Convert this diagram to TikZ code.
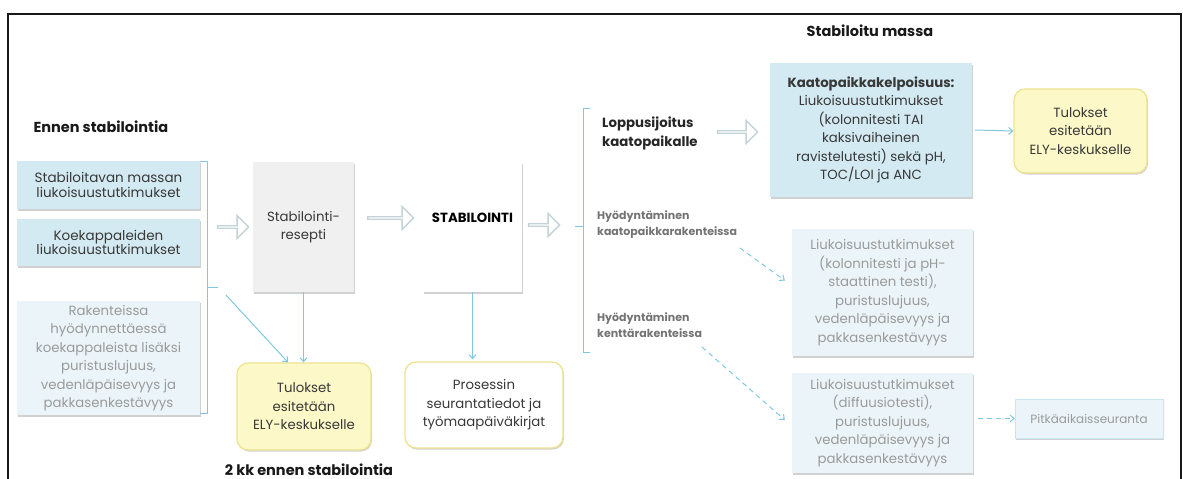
\documentclass[tikz,border=0pt]{standalone}
\usepackage{fontspec}
\setmainfont{Poppins}
\usetikzlibrary{shapes.arrows,shadows,arrows.meta}
\definecolor{boxblue}{HTML}{D3EAF2}
\definecolor{paleblue}{HTML}{EBF5F9}
\definecolor{paletext}{HTML}{9A9A9A}
\definecolor{darktext}{HTML}{383838}
\definecolor{recipegray}{HTML}{F0F0F0}
\definecolor{yelfill}{HTML}{FCF8C8}
\definecolor{yeldraw}{HTML}{EDE390}
\definecolor{linkblue}{HTML}{80C8DE}
\definecolor{arrgray}{HTML}{C3D3D6}
\begin{document}
\begin{tikzpicture}[x=1pt,y=-1pt,
	box/.style={rectangle,align=center,inner sep=2pt,text=darktext,
		font=\fontsize{13.3}{18.5}\selectfont,
		drop shadow={shadow xshift=1pt,shadow yshift=-1.5pt,fill=black!40,opacity=.45}},
	bluebox/.style={box,fill=boxblue},
	palebox/.style={box,fill=paleblue,text=paletext},
	yelbox/.style={box,rounded corners=11pt,fill=yelfill,draw=yeldraw,line width=1.3pt},
	harrow/.style={single arrow,draw=arrgray,fill=white,line width=1.3pt,minimum width=23pt,
		single arrow head extend=5.5pt,inner sep=0pt,minimum height=#1},
	link/.style={draw=linkblue,line width=1pt,-{Straight Barb[length=4pt,width=7pt]}},
	dlink/.style={link,dash pattern=on 5pt off 4pt},
	title/.style={font=\fontsize{14.5}{16}\selectfont\bfseries,text=black!90},
	subtitle/.style={font=\fontsize{11}{16}\selectfont\bfseries,align=left,inner sep=0pt}]
	\useasboundingbox (0,0) rectangle (1183,479);
	% frame
	\draw[line width=2pt,black!90] (8,490) -- (8,13.5) -- (1181,13.5) -- (1181,490);
	% titles
	\node[title,anchor=west] (tbefore) at (30,127) {Ennen stabilointia};
	\node[title] (tafter) at (870,31) {Stabiloitu massa};
	\node[title] (tmonths) at (309,470) {2 kk ennen stabilointia};
	% before stabilisation
	\node[bluebox,minimum width=183pt,minimum height=48pt,font=\fontsize{13.5}{14.5}\selectfont] (mass) at (108.5,185) {Stabiloitavan massan\\liukoisuustutkimukset};
	\node[bluebox,minimum width=183pt,minimum height=47pt,font=\fontsize{13.5}{14.5}\selectfont] (spec) at (108.5,242.5) {Koekappaleiden\\liukoisuustutkimukset};
	\node[palebox,minimum width=183pt,minimum height=114pt] (struct) at (108.5,358) {Rakenteissa\\hyödynnettäessä\\koekappaleista lisäksi\\puristuslujuus,\\vedenläpäisevyys ja\\pakkasenkestävyys};
	\draw[linkblue,line width=1pt] (200,161) -- (207,161) -- (207,413) -- (200,413);
	\draw[linkblue,line width=1pt] (207,287) -- (218,287);
	\coordinate (bl) at (226,295);
	% main line
	\node[harrow=31pt] (a1) at (232.5,227) {};
	\node[box,fill=recipegray,minimum width=101pt,minimum height=130pt] (recipe) at (303.5,227) {Stabilointi-\\resepti};
	\node[harrow=46pt] (a2) at (390,218) {};
	\node[box,fill=white,minimum width=99pt,minimum height=130pt,font=\fontsize{13.3}{18.5}\selectfont\bfseries,text=black,text depth=18pt] (stab) at (472.5,227) {STABILOINTI};
	\node[harrow=31pt] (a3) at (543.5,225) {};
	\node[yelbox,minimum width=134pt,minimum height=87pt] (ely) at (304,406.5) {Tulokset\\esitetään\\ELY-keskukselle};
	\node[yelbox,fill=white,minimum width=158pt,minimum height=86pt] (proc) at (484,405) {Prosessin\\seurantatiedot ja\\työmaapäiväkirjat};
	\draw[link] (recipe.south) -- (recipe.south |- ely.north);
	\draw[link] (bl) -- ([xshift=-16pt]ely.north);
	\draw[link] (stab.south) -- ([yshift=2pt]stab.south |- proc.north);
	% after stabilisation
	\draw[linkblue,line width=1pt] (590,108) -- (583,108) -- (583,352) -- (590,352);
	\draw[linkblue,line width=1pt] (583,226) -- (575,226);
	\node[subtitle,font=\fontsize{13.3}{19}\selectfont\bfseries,text=black!85,anchor=west] (landfill) at (602,133) {Loppusijoitus\\kaatopaikalle};
	\node[subtitle,text=black!55,anchor=west] (uself) at (597,225) {Hyödyntäminen\\kaatopaikkarakenteissa};
	\node[subtitle,text=black!55,anchor=west] (usefield) at (597,325) {Hyödyntäminen\\kenttärakenteissa};
	\node[harrow=40pt] (a4) at (737,132) {};
	\node[bluebox,minimum width=202pt,minimum height=134pt] (accept) at (871,130) {\textbf{Kaatopaikkakelpoisuus:}\\Liukoisuustutkimukset\\(kolonnitesti TAI\\kaksivaiheinen\\ravistelutesti) sekä pH,\\TOC/LOI ja ANC};
	\node[yelbox,minimum width=133pt,minimum height=84pt] (ely2) at (1080.5,131) {Tulokset\\esitetään\\ELY-keskukselle};
	\draw[link] (accept.east) ++(3pt,0) -- (ely2.west);
	\node[palebox,minimum width=181pt,minimum height=127pt] (lftest) at (882.5,292.5) {Liukoisuustutkimukset\\(kolonnitesti ja pH-\\staattinen testi),\\puristuslujuus,\\vedenläpäisevyys ja\\pakkasenkestävyys};
	\node[palebox,minimum width=181pt,minimum height=100pt] (fieldtest) at (882.5,423) {Liukoisuustutkimukset\\(diffuusiotesti),\\puristuslujuus,\\vedenläpäisevyys ja\\pakkasenkestävyys};
	\node[palebox,draw=linkblue!45,minimum width=148pt,minimum height=39pt,font=\fontsize{12}{14}\selectfont] (monitor) at (1089,418.5) {Pitkäaikaisseuranta};
	\coordinate (d1) at (740,248);
	\coordinate (d2) at (702,347);
	\draw[dlink] (d1) -- ([xshift=-7pt,yshift=12pt]lftest.west);
	\draw[dlink] (d2) -- ([xshift=-7pt,yshift=3pt]fieldtest.west);
	\draw[dlink] ([xshift=5pt]fieldtest.east |- monitor.west) -- (monitor.west);
\end{tikzpicture}
\end{document}
